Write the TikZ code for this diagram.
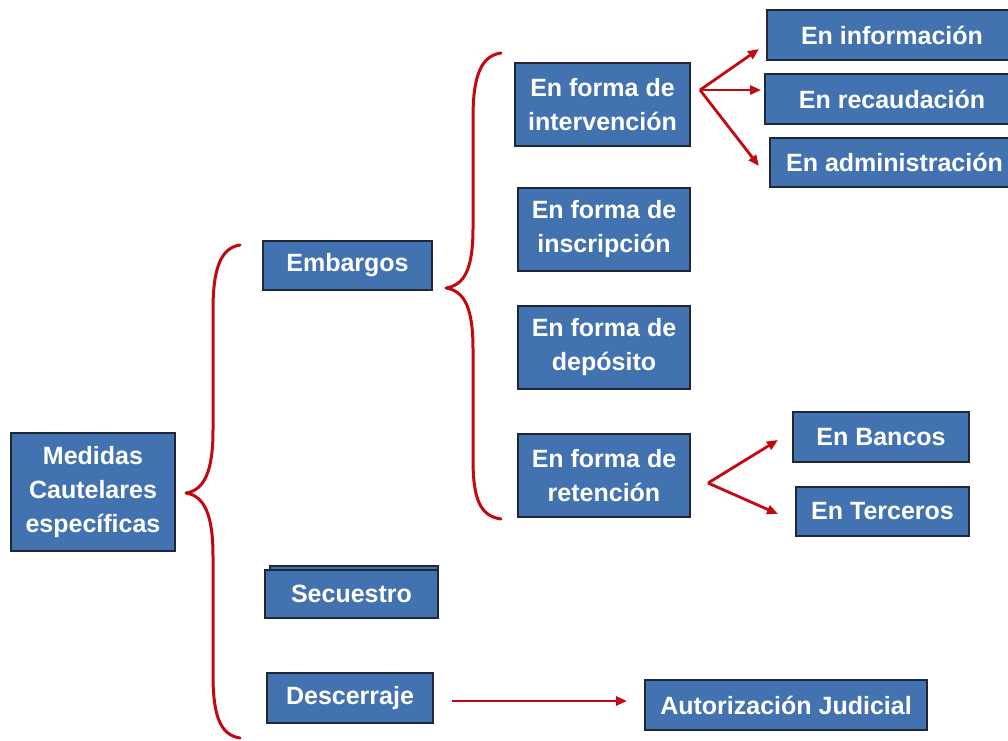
\documentclass[tikz,border=0pt]{standalone}
\usepackage{fontspec}
\setmainfont{Liberation Sans}
\usetikzlibrary{arrows.meta}
\definecolor{boxblue}{RGB}{66,114,176}
\definecolor{boxline}{RGB}{30,40,55}
\definecolor{bred}{RGB}{196,8,16}
\tikzset{
  box/.style={draw=boxline, line width=1.3pt, fill=boxblue, text=white,
    font=\fontsize{25}{34}\selectfont\bfseries, align=center, inner sep=0pt},
  brace/.style={draw=bred, line width=3pt, line cap=round, line join=round},
  arr/.style={draw=bred, line width=2.8pt, -{Triangle[length=11pt,width=9pt]}}
}
\begin{document}
\begin{tikzpicture}[x=1pt,y=-1pt]
\useasboundingbox (0,0) rectangle (1008,740);
\clip (0,0) rectangle (1008,740);
\fill[white] (0,0) rectangle (1008,740);
% nodes
\node[box, minimum width=164pt, minimum height=118pt] (med) at (93,492) {Medidas\\Cautelares\\específicas};
\node[box, minimum width=169pt, minimum height=49pt] (emb) at (347.5,265.5) {Embargos};
\draw[boxline, line width=1.3pt, fill=boxblue] (270,566) rectangle (438,614);
\node[box, minimum width=173pt, minimum height=48pt] (sec) at (351.5,594) {Secuestro};
\node[box, minimum width=166pt, minimum height=50pt] (des) at (350,698) {Descerraje};
\node[box, minimum width=282pt, minimum height=50pt] (aut) at (786,705) {Autorización Judicial};
\node[box, minimum width=175pt, minimum height=83pt] (int) at (602.5,104.5) {En forma de\\intervención};
\node[box, minimum width=172pt, minimum height=83pt] (ins) at (604,229.5) {En forma de\\inscripción};
\node[box, minimum width=172pt, minimum height=83pt] (dep) at (604,347.5) {En forma de\\depósito};
\node[box, minimum width=172pt, minimum height=83pt] (ret) at (604,475.5) {En forma de\\retención};
\node[box, minimum width=250pt, minimum height=50pt] (inf) at (892,35) {En información};
\node[box, minimum width=254pt, minimum height=50pt] (rec) at (892,99) {En recaudación};
\node[box, minimum width=249pt, minimum height=49pt] (adm) at (894.5,162.5) {En administración};
\node[box, minimum width=176pt, minimum height=50pt] (ban) at (881,437) {En Bancos};
\node[box, minimum width=173pt, minimum height=49pt] (ter) at (882.5,511.5) {En Terceros};
% brace 1
\coordinate (b1t) at (240,245);
\coordinate (b1m) at (186,493);
\coordinate (b1b) at (240,738);
\draw[brace] (b1t) .. controls (220,248) and (213,270) .. (213,310)
  -- (213,430) .. controls (213,470) and (205,490) .. (b1m)
  .. controls (205,496) and (213,516) .. (213,556)
  -- (213,675) .. controls (213,715) and (220,735) .. (b1b);
% brace 2
\coordinate (b2t) at (501,53);
\coordinate (b2m) at (446,288);
\coordinate (b2b) at (501,519);
\draw[brace] (b2t) .. controls (480,56) and (473,78) .. (473,118)
  -- (473,228) .. controls (473,268) and (465,285) .. (b2m)
  .. controls (465,291) and (473,309) .. (473,349)
  -- (473,459) .. controls (473,499) and (480,516) .. (b2b);
% arrows
\coordinate (h1) at (700,90);
\coordinate (t1) at (759,49);
\coordinate (t2) at (761,90);
\coordinate (t3) at (759,166);
\draw[arr] (h1) -- (t1);
\draw[arr] (h1) -- (t2);
\draw[arr] (h1) -- (t3);
\coordinate (h2) at (708,483);
\coordinate (t4) at (778,440);
\coordinate (t5) at (778,514);
\draw[arr] (h2) -- (t4);
\draw[arr] (h2) -- (t5);
\coordinate (d1) at (452,701);
\coordinate (d2) at (627,701);
\draw[arr] (d1) -- (d2);
\end{tikzpicture}
\end{document}
